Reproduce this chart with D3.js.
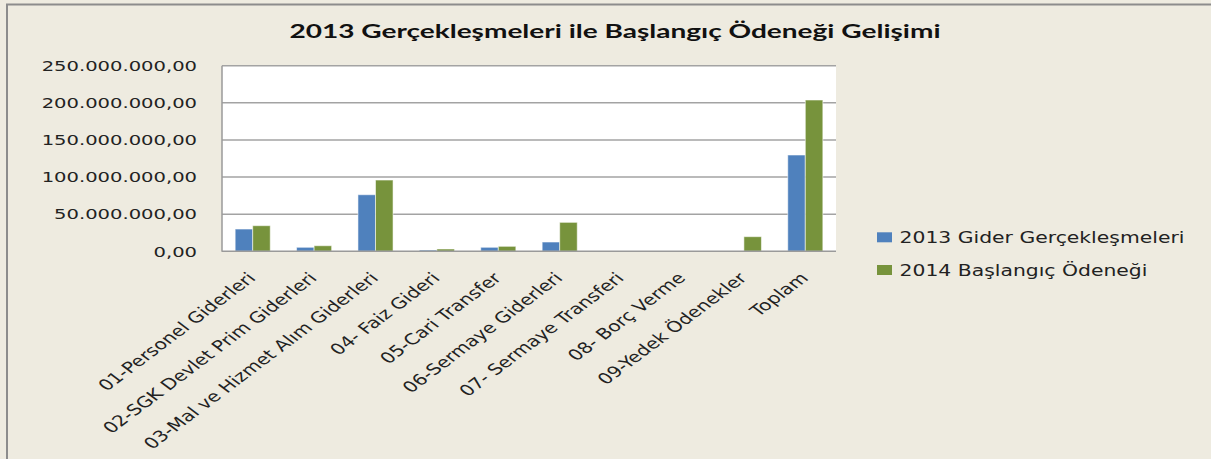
<html>

<head>
    <meta charset="utf-8">
    <script src="https://d3js.org/d3.v7.min.js"></script>
    <style>
        body { margin: 0; background: #EEEBE0; }
    </style>
</head>

<body>
    <div id="vis"></div>
</body>

<script>

    // Data (TL)
    var categories = ["01-Personel Giderleri", "02-SGK Devlet Prim Giderleri", "03-Mal ve Hizmet Alım Giderleri",
        "04- Faiz Gideri", "05-Cari Transfer", "06-Sermaye Giderleri", "07- Sermaye Transferi",
        "08- Borç Verme", "09-Yedek Ödenekler", "Toplam"];
    var seriesNames = ["2013 Gider Gerçekleşmeleri", "2014 Başlangıç Ödeneği"];
    var gider2013 = [30000000, 5400000, 76200000, 1700000, 5400000, 12500000, 0, 0, 0, 129700000];
    var odenek2014 = [34500000, 7500000, 96000000, 3100000, 6700000, 39000000, 0, 0, 19700000, 203800000];
    var yTicks = [0, 50000000, 100000000, 150000000, 200000000, 250000000];
    var title = "2013 Gerçekleşmeleri ile Başlangıç Ödeneği Gelişimi";

    var colors = ["#4F81BD", "#77933C"];

    // the original picture is stretched sideways, text gets the same stretch
    var sx = 1.33;

    var W = 1211, H = 459;
    var plot = { left: 222, right: 836, top: 65.7, bottom: 251.3 };

    var svg = d3.select("#vis")
        .append("svg")
        .attr("width", W)
        .attr("height", H)
        .style("display", "block");

    svg.append("rect")
        .attr("width", W)
        .attr("height", H)
        .attr("fill", "#EEEBE0");

    // outer frame (only top and left show)
    svg.append("line")
        .attr("x1", 6).attr("x2", W).attr("y1", 4.5).attr("y2", 4.5)
        .attr("stroke", "#8C8C8C").attr("stroke-width", 2);
    svg.append("line")
        .attr("x1", 7).attr("x2", 7).attr("y1", 4).attr("y2", H)
        .attr("stroke", "#8C8C8C").attr("stroke-width", 2);

    // Title
    svg.append("text")
        .attr("x", 615)
        .attr("y", 37.5)
        .attr("text-anchor", "middle")
        .attr("textLength", 651)
        .attr("lengthAdjust", "spacingAndGlyphs")
        .style("font-family", "Lato, 'Open Sans', sans-serif")
        .style("font-weight", "bold")
        .style("font-size", "18.5px")
        .style("fill", "#111")
        .text(title);

    // Scales
    var x = d3.scaleBand()
        .domain(categories)
        .range([plot.left, plot.right])
        .padding(0);

    var xs = d3.scaleBand()
        .domain(seriesNames)
        .range([0, x.bandwidth()])
        .paddingInner(0)
        .paddingOuter(0.75);

    var y = d3.scaleLinear()
        .domain([0, 250000000])
        .range([plot.bottom, plot.top]);

    var tr = d3.formatLocale({ decimal: ",", thousands: ".", grouping: [3], currency: ["", " TL"] });
    var fmt = tr.format(",.2f");

    // Plot area
    svg.append("rect")
        .attr("x", plot.left)
        .attr("y", plot.top)
        .attr("width", plot.right - plot.left)
        .attr("height", plot.bottom - plot.top)
        .attr("fill", "white");

    // gridlines
    svg.append("g")
        .selectAll("line")
        .data(yTicks.slice(1))
        .enter()
        .append("line")
        .attr("x1", plot.left)
        .attr("x2", plot.right)
        .attr("y1", function (d) { return y(d); })
        .attr("y2", function (d) { return y(d); })
        .attr("stroke", "#A3A3A3")
        .attr("stroke-width", 1.5);

    // y labels
    svg.append("g")
        .selectAll("text")
        .data(yTicks)
        .enter()
        .append("text")
        .attr("transform", function (d) {
            return "translate(197," + (y(d) + 5.3) + ") scale(" + sx + ",1)";
        })
        .attr("text-anchor", "end")
        .style("font-family", "'DejaVu Sans', Verdana, sans-serif")
        .style("font-size", "14.7px")
        .style("fill", "#222")
        .text(function (d) { return fmt(d); });

    // bars
    var rows = categories.map(function (c, i) {
        return { cat: c, values: [gider2013[i], odenek2014[i]] };
    });

    var groups = svg.append("g")
        .selectAll("g")
        .data(rows)
        .enter()
        .append("g")
        .attr("transform", function (d) { return "translate(" + x(d.cat) + ",0)"; });

    groups.selectAll("rect")
        .data(function (d) {
            return d.values.map(function (v, j) { return { key: seriesNames[j], value: v, j: j }; });
        })
        .enter()
        .filter(function (d) { return d.value > 0; })
        .append("rect")
        .attr("x", function (d) { return xs(d.key); })
        .attr("width", xs.bandwidth())
        .attr("y", function (d) { return y(d.value); })
        .attr("height", function (d) { return y(0) - y(d.value); })
        .attr("fill", function (d) { return colors[d.j]; })
        .attr("stroke", "rgba(255,255,255,0.55)")
        .attr("stroke-width", 1);

    // axis lines
    svg.append("line")
        .attr("x1", plot.left).attr("x2", plot.left)
        .attr("y1", plot.top).attr("y2", plot.bottom + 0.5)
        .attr("stroke", "#9A9A9A").attr("stroke-width", 1.5);
    svg.append("line")
        .attr("x1", plot.left).attr("x2", plot.right)
        .attr("y1", plot.bottom).attr("y2", plot.bottom)
        .attr("stroke", "#9A9A9A").attr("stroke-width", 1.5);

    // category labels, rotated 45 then stretched
    svg.append("g")
        .selectAll("text")
        .data(categories)
        .enter()
        .append("text")
        .attr("transform", function (d) {
            var cx = x(d) + x.bandwidth() / 2;
            return "translate(" + (cx + 4) + "," + 279 + ") scale(" + sx + ",1) rotate(-45)";
        })
        .attr("text-anchor", "end")
        .style("font-family", "'DejaVu Sans', Verdana, sans-serif")
        .style("font-size", "15.2px")
        .style("fill", "#222")
        .text(function (d) { return d; });

    // legend
    var legend = svg.append("g")
        .selectAll("g")
        .data(seriesNames)
        .enter()
        .append("g")
        .attr("transform", function (d, i) { return "translate(877," + (232.3 + i * 32.7) + ")"; });

    legend.append("rect")
        .attr("width", 15)
        .attr("height", 10)
        .attr("fill", function (d, i) { return colors[i]; });

    legend.append("text")
        .attr("transform", "translate(22.5,11) scale(" + sx + ",1)")
        .style("font-family", "'DejaVu Sans', Verdana, sans-serif")
        .style("font-size", "15.3px")
        .style("fill", "#222")
        .text(function (d) { return d; });

</script>

</html>
